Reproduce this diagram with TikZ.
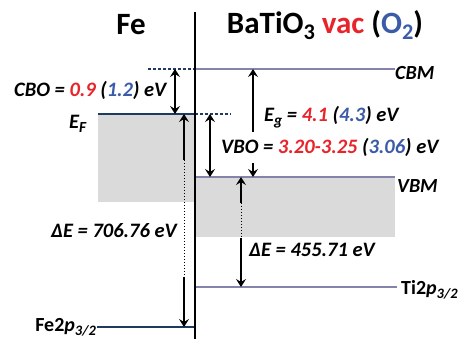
\documentclass[tikz,border=0pt]{standalone}
\usepackage{fontspec}
\setmainfont{Carlito}
\usetikzlibrary{arrows.meta}
\definecolor{myred}{HTML}{E8232A}
\definecolor{myblue}{HTML}{3B5BA9}
\definecolor{lvl}{HTML}{8484AA}
\definecolor{navy}{HTML}{1F3A60}
\definecolor{fillg}{HTML}{DADADA}
\newcommand{\sbx}[1]{\raisebox{-0.35ex}{\scalebox{0.72}{#1}}}
\newcommand{\sbl}[1]{\raisebox{-0.45ex}{\scalebox{0.75}{#1}}}
\begin{document}
\begin{tikzpicture}[x=1pt,y=-1pt,
  lab/.style={font=\fontsize{20.5}{20.5}\selectfont\bfseries\itshape, inner sep=0pt, anchor=west},
  lvlab/.style={font=\fontsize{20}{20}\selectfont\bfseries\itshape, inner sep=0pt, anchor=west},
  corelab/.style={font=\fontsize{20}{20}\selectfont\bfseries, inner sep=0pt},
  ttl/.style={font=\fontsize{31}{31}\selectfont\bfseries, inner sep=0pt},
  arr/.style={line width=1.4pt, -{Stealth[length=8pt,width=10pt,inset=3pt]}},
  dots/.style={line width=1pt, dotted},
  lev/.style={line width=1.5pt, lvl},
  flev/.style={line width=1.5pt, navy},
  dlev/.style={line width=1.3pt, navy, dash pattern=on 3pt off 2pt}]
\useasboundingbox (0,0) rectangle (469,339);
% gray bands
\fill[fillg] (98,114) rectangle (195,202);
\fill[fillg] (195,177) rectangle (395,237);
% coordinates
\coordinate (cbmL) at (148,69);
\coordinate (cbmM) at (195,69);
\coordinate (cbmR) at (395,69);
\coordinate (efL) at (98,114);
\coordinate (efM) at (195,114);
\coordinate (efR) at (231,114);
\coordinate (vbmL) at (195,177);
\coordinate (vbmR) at (395,177);
\coordinate (tiL) at (195,287);
\coordinate (tiR) at (397,287);
\coordinate (feL) at (97,327);
\coordinate (feR) at (195,327);
\coordinate (divT) at (195,12);
\coordinate (divB) at (195,339);
% levels
\draw[dlev] (cbmL) -- (cbmM);
\draw[lev] (cbmM) -- (cbmR);
\draw[flev] (efL) -- (efM);
\draw[dlev] (efM) -- (efR);
\draw[lev] (vbmL) -- (vbmR);
\draw[lev] (tiL) -- (tiR);
\draw[flev] (feL) -- (feR);
\draw[line width=1.1pt] (divT) -- (divB);
% CBO arrow
\coordinate (cboT) at (175,69);
\coordinate (cboB) at (175,114);
\coordinate (cboM) at (175,91.5);
\draw[arr] (cboM) -- (cboT);
\draw[arr] (cboM) -- (cboB);
% Fe Delta E arrow
\coordinate (dfT) at (184,114);
\coordinate (dfA) at (184,160);
\coordinate (dfB) at (184,277);
\coordinate (dfE) at (184,327);
\draw[arr] (dfA) -- (dfT);
\draw[dots] (dfA) -- (dfB);
\draw[arr] (dfB) -- (dfE);
% VBO arrow
\coordinate (vboT) at (210,114);
\coordinate (vboB) at (210,177);
\coordinate (vboM) at (210,145);
\draw[arr] (vboM) -- (vboT);
\draw[arr] (vboM) -- (vboB);
% Eg arrow
\coordinate (egT) at (253,69);
\coordinate (egS) at (253,132);
\coordinate (egS2) at (253,163);
\coordinate (egB) at (253,177);
\draw[arr] (egS) -- (egT);
\draw[arr] (egS2) -- (egB);
% BaTiO3 Delta E arrow
\coordinate (dbT) at (241,177);
\coordinate (dbA) at (241,203);
\coordinate (dbB) at (241,238);
\coordinate (dbE) at (241,287);
\draw[arr] (dbA) -- (dbT);
\draw[dots] (dbA) -- (dbB);
\draw[arr] (dbB) -- (dbE);
% titles
\node[ttl] (tFe) at (131,25) {Fe};
\node[ttl] (tBa) at (325,25) {BaTiO\sbx{3} \textcolor{myred}{vac} (\textcolor{myblue}{O\sbx{2}})};
% labels
\node[lab] (lcbo) at (14,90) {CBO = \textcolor{myred}{0.9} (\textcolor{myblue}{1.2}) eV};
\node[lab] (lef) at (69,124) {E\sbl{F}};
\node[lab] (leg) at (264,117) {E\sbl{g} = \textcolor{myred}{4.1} (\textcolor{myblue}{4.3}) eV};
\node[lab] (lvbo) at (221,147) {VBO = \textcolor{myred}{3.20-3.25} (\textcolor{myblue}{3.06}) eV};
\node[lab] (ldf) at (51,231) {ΔE = 706.76 eV};
\node[lab] (ldb) at (249,250) {ΔE = 455.71 eV};
\node[lvlab] (lcbm) at (395,73) {CBM};
\node[lvlab] (lvbm) at (397,186) {VBM};
\node[corelab, anchor=west] (lti) at (401,290) {Ti2\textit{p}\raisebox{-0.45ex}{\scalebox{0.72}{\textit{3/2}}}};
\node[corelab, anchor=east] (lfe) at (96,327) {Fe2\textit{p}\raisebox{-0.45ex}{\scalebox{0.72}{\textit{3/2}}}};
\end{tikzpicture}
\end{document}
